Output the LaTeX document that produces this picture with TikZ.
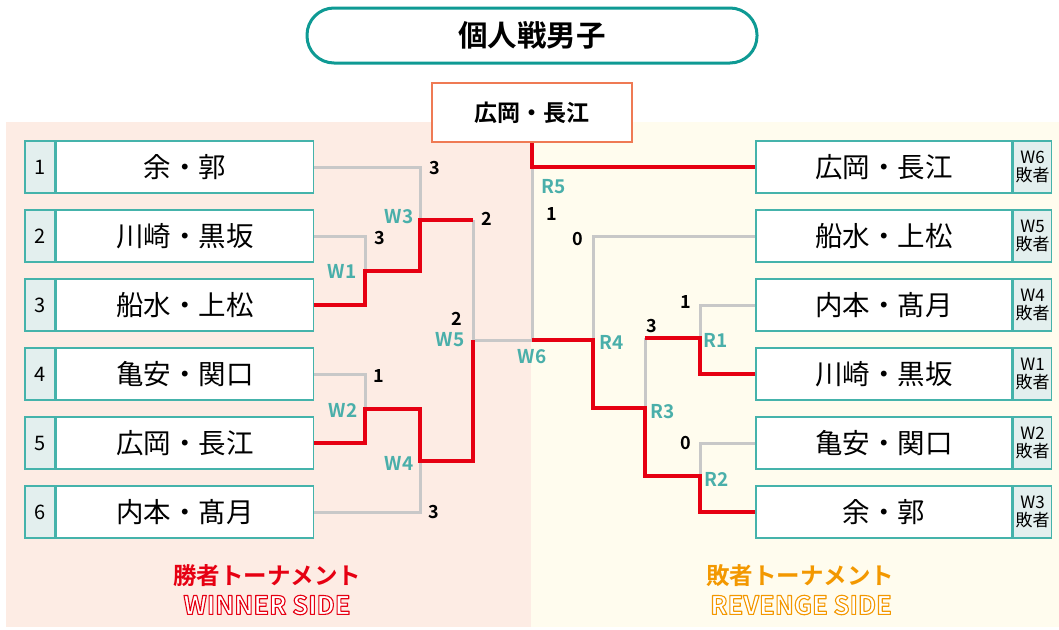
\documentclass[tikz,border=0pt]{standalone}
\usepackage{fontspec}
\setmainfont{Noto Sans CJK JP}[BoldFont={Noto Sans CJK JP Bold}]
\usepackage{xcolor}
\usepackage{tikz}
\usetikzlibrary{positioning}

\definecolor{titleteal}{HTML}{0E9A94}
\definecolor{boxline}{HTML}{45B3AB}
\definecolor{cellfill}{HTML}{E3EFEE}
\definecolor{tagteal}{HTML}{4AAFAA}
\definecolor{winred}{HTML}{E60012}
\definecolor{losegray}{HTML}{C8C8C8}
\definecolor{champline}{HTML}{EF7A54}
\definecolor{pinkbg}{HTML}{FDECE4}
\definecolor{creambg}{HTML}{FFFCEE}
\definecolor{revorange}{HTML}{F39800}

% white caption with a coloured rim (fill + stroke of the glyphs)
\newcommand{\rimtext}[2]{{\color{white}\special{pdf:literal direct 1.1 w 1 j #1 RG 2 Tr}#2\special{pdf:literal direct 0 Tr 1 w}}}

\begin{document}
\begin{tikzpicture}[x=1pt, y=-1pt,
    numcell/.style={draw=boxline, line width=1.5pt, fill=cellfill, minimum width=30pt, minimum height=52pt, inner sep=0pt, font=\fontsize{20}{22}\selectfont},
    namebox/.style={draw=boxline, line width=1.5pt, fill=white, minimum width=257pt, minimum height=52pt, inner sep=0pt, font=\fontsize{27.5}{30}\selectfont},
    losecell/.style={draw=boxline, line width=1.5pt, fill=cellfill, minimum width=38pt, minimum height=52pt, inner sep=0pt, align=center, font=\fontsize{17}{18.5}\selectfont},
    win/.style={draw=winred, line width=3.5pt},
    lose/.style={draw=losegray, line width=3pt},
    score/.style={font=\bfseries\fontsize{18}{20}\selectfont},
    tag/.style={text=tagteal, font=\bfseries\fontsize{19}{21}\selectfont},
    sidetext/.style={font=\bfseries\fontsize{23.5}{25}\selectfont},
    sidelatin/.style={font=\bfseries\fontsize{25.5}{27}\selectfont}]
  \useasboundingbox (0,0) rectangle (1059,629);
  % Backgrounds for both sides
  \fill[pinkbg] (6,122) rectangle (531,627);
  \fill[creambg] (531,122) rectangle (1059,627);

  % Title and champion
  \node[draw=titleteal, line width=3pt, fill=white, rounded corners=27pt, minimum width=450pt, minimum height=55pt, font=\bfseries\fontsize{29.5}{32}\selectfont] (title) at (532,35.5) {個人戦男子};
  \node[draw=champline, line width=2.5pt, fill=white, minimum width=200pt, minimum height=59pt, font=\bfseries\fontsize{23}{26}\selectfont] (champ) at (532,112.5) {広岡・長江};

  % Winner side entries
  \node[numcell] (n1) at (40,167) {1};
  \node[namebox, right=0pt of n1] (p1) {余・郭};
  \node[numcell] (n2) at (40,236) {2};
  \node[namebox, right=0pt of n2] (p2) {川崎・黒坂};
  \node[numcell] (n3) at (40,305) {3};
  \node[namebox, right=0pt of n3] (p3) {船水・上松};
  \node[numcell] (n4) at (40,374) {4};
  \node[namebox, right=0pt of n4] (p4) {亀安・関口};
  \node[numcell] (n5) at (40,443) {5};
  \node[namebox, right=0pt of n5] (p5) {広岡・長江};
  \node[numcell] (n6) at (40,512) {6};
  \node[namebox, right=0pt of n6] (p6) {内本・髙月};

  % Revenge side entries
  \node[namebox, minimum width=256pt] (q1) at (884,167) {広岡・長江};
  \node[losecell, right=0pt of q1] (l1) {W6\\敗者};
  \node[namebox, minimum width=256pt] (q2) at (884,236) {船水・上松};
  \node[losecell, right=0pt of q2] (l2) {W5\\敗者};
  \node[namebox, minimum width=256pt] (q3) at (884,305) {内本・髙月};
  \node[losecell, right=0pt of q3] (l3) {W4\\敗者};
  \node[namebox, minimum width=256pt] (q4) at (884,374) {川崎・黒坂};
  \node[losecell, right=0pt of q4] (l4) {W1\\敗者};
  \node[namebox, minimum width=256pt] (q5) at (884,443) {亀安・関口};
  \node[losecell, right=0pt of q5] (l5) {W2\\敗者};
  \node[namebox, minimum width=256pt] (q6) at (884,512) {余・郭};
  \node[losecell, right=0pt of q6] (l6) {W3\\敗者};

  % Match points
  \coordinate (w1) at (365,271);
  \coordinate (w2) at (365,409);
  \coordinate (w3) at (420,220);
  \coordinate (w4) at (420,461);
  \coordinate (w5) at (473,340);
  \coordinate (r5) at (champ.south |- q1.west);
  \coordinate (w6) at (r5 |- w5);
  \coordinate (r4) at (593,340);
  \coordinate (r1) at (700,338);
  \coordinate (r2) at (700,476);
  \coordinate (r3) at (645,408);

  % Lost branches (gray)
  \draw[lose] (p1.east) -| (w3);
  \draw[lose] (p2.east) -| (w1);
  \draw[lose] (p4.east) -| (w2);
  \draw[lose] (p6.east) -| (w4);
  \draw[lose] (w3 -| w5) -- (w5) -- (w6) -- (r5);
  \draw[lose] (q2.west) -| (r4);
  \draw[lose] (q3.west) -| (r1);
  \draw[lose] (r1 -| r3) -- (r3);
  \draw[lose] (q5.west) -| (r2);

  % Winning branches (red)
  \draw[win] (p3.east) -| (w1) -| (w3) -- (w3 -| w5);
  \draw[win] (p5.east) -| (w2) -| (w4) -| (w5);
  \draw[win] (champ.south) -- (r5) -- (q1.west);
  \draw[win] (w6) -- (r4) |- (r3) |- (r2) |- (q6.west);
  \draw[win] (q4.west) -| (r1) -- (r1 -| r3);

  % Match labels
  \node[tag] (tw1) at ([shift={(-23,0)}]w1) {W1};
  \node[tag] (tw2) at ([shift={(-22,1)}]w2) {W2};
  \node[tag] (tw3) at ([shift={(-21,-3)}]w3) {W3};
  \node[tag] (tw4) at ([shift={(-21,2)}]w4) {W4};
  \node[tag] (tw5) at ([shift={(-23,0)}]w5) {W5};
  \node[tag] (tw6) at ([shift={(0,17)}]w6) {W6};
  \node[tag] (tr1) at ([shift={(16,2)}]r1) {R1};
  \node[tag] (tr2) at ([shift={(17,3)}]r2) {R2};
  \node[tag] (tr3) at ([shift={(18,4)}]r3) {R3};
  \node[tag] (tr4) at ([shift={(19,2)}]r4) {R4};
  \node[tag] (tr5) at ([shift={(22,20)}]r5) {R5};

  % Scores
  \node[score] (s1) at ([shift={(15,1)}]w3 |- p1) {3};
  \node[score] (s2) at ([shift={(15,2)}]w1 |- p2) {3};
  \node[score] (s3) at ([shift={(14,-1)}]w5 |- w3) {2};
  \node[score] (s4) at ([shift={(-16,-21)}]w5) {2};
  \node[score] (s5) at ([shift={(14,2)}]w2 |- p4) {1};
  \node[score] (s6) at ([shift={(14,0)}]w4 |- p6) {3};
  \node[score] (s7) at ([shift={(20,47)}]r5) {1};
  \node[score] (s8) at ([shift={(-15,3)}]r4 |- q2) {0};
  \node[score] (s9) at ([shift={(7,-12)}]r3 |- r1) {3};
  \node[score] (s10) at ([shift={(-14,-3)}]r1 |- q3) {1};
  \node[score] (s11) at ([shift={(-14,0)}]r2 |- q5) {0};

  % Side captions
  \node[sidetext, text=winred] (wcap) at (267,576) {勝者トーナメント};
  \node[sidetext, text=revorange] (rcap) at (800,576) {敗者トーナメント};
  \node[sidelatin] (wside) at (267,605) {\rimtext{0.902 0 0.071}{WINNER SIDE}};
  \node[sidelatin] (rside) at (801,605) {\rimtext{0.953 0.596 0}{REVENGE SIDE}};
\end{tikzpicture}
\end{document}
